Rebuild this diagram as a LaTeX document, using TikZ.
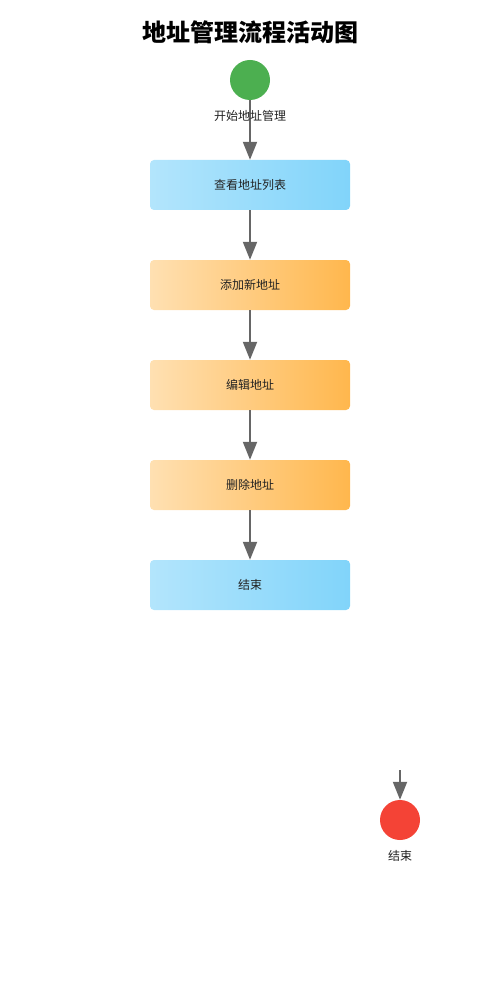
\documentclass[tikz,border=0pt]{standalone}
\usepackage{fontspec}
\setmainfont{Noto Sans CJK SC}
\usetikzlibrary{arrows.meta}
\definecolor{startgreen}{HTML}{4CAF50}
\definecolor{endred}{HTML}{F44336}
\definecolor{blueL}{HTML}{B3E5FC}
\definecolor{blueR}{HTML}{81D4FA}
\definecolor{orangeL}{HTML}{FFE0B2}
\definecolor{orangeR}{HTML}{FFB74D}
\definecolor{arrowgray}{HTML}{666666}
\definecolor{txt}{HTML}{222222}
\begin{document}
\begin{tikzpicture}[x=1pt,y=-1pt,
  boxbase/.style={rectangle,rounded corners=4pt,minimum width=200pt,minimum height=50pt,inner sep=0pt,font=\fontsize{12pt}{14pt}\selectfont,text=txt,text depth=1pt},
  bluebox/.style={boxbase,left color=blueL,right color=blueR},
  orangebox/.style={boxbase,left color=orangeL,right color=orangeR},
  startnode/.style={circle,fill=startgreen,minimum size=40pt,inner sep=0pt},
  endnode/.style={circle,fill=endred,minimum size=40pt,inner sep=0pt},
  lbl/.style={font=\fontsize{12pt}{14pt}\selectfont,text=txt,inner sep=0pt},
  flow/.style={draw=arrowgray,line width=2pt,-{Triangle[length=18pt,width=14pt]}}
]
\useasboundingbox (0,0) rectangle (500,1000);
\node[font=\fontsize{24pt}{28pt}\selectfont\bfseries] (title) at (250,32) {地址管理流程活动图};
\node[startnode] (start) at (250,80) {};
\node[bluebox] (b1) at (250,185) {查看地址列表};
\node[orangebox] (b2) at (250,285) {添加新地址};
\node[orangebox] (b3) at (250,385) {编辑地址};
\node[orangebox] (b4) at (250,485) {删除地址};
\node[bluebox] (b5) at (250,585) {结束};
\node[endnode] (end) at (400,820) {};
\coordinate (endin) at (400,770);
\draw[flow] (start.south) -- (b1.north);
\node[lbl] (startlbl) at (250,116) {开始地址管理};
\draw[flow] (b1.south) -- (b2.north);
\draw[flow] (b2.south) -- (b3.north);
\draw[flow] (b3.south) -- (b4.north);
\draw[flow] (b4.south) -- (b5.north);
\draw[flow] (endin) -- (end.north);
\node[lbl] (endlbl) at (400,856) {结束};
\end{tikzpicture}
\end{document}
